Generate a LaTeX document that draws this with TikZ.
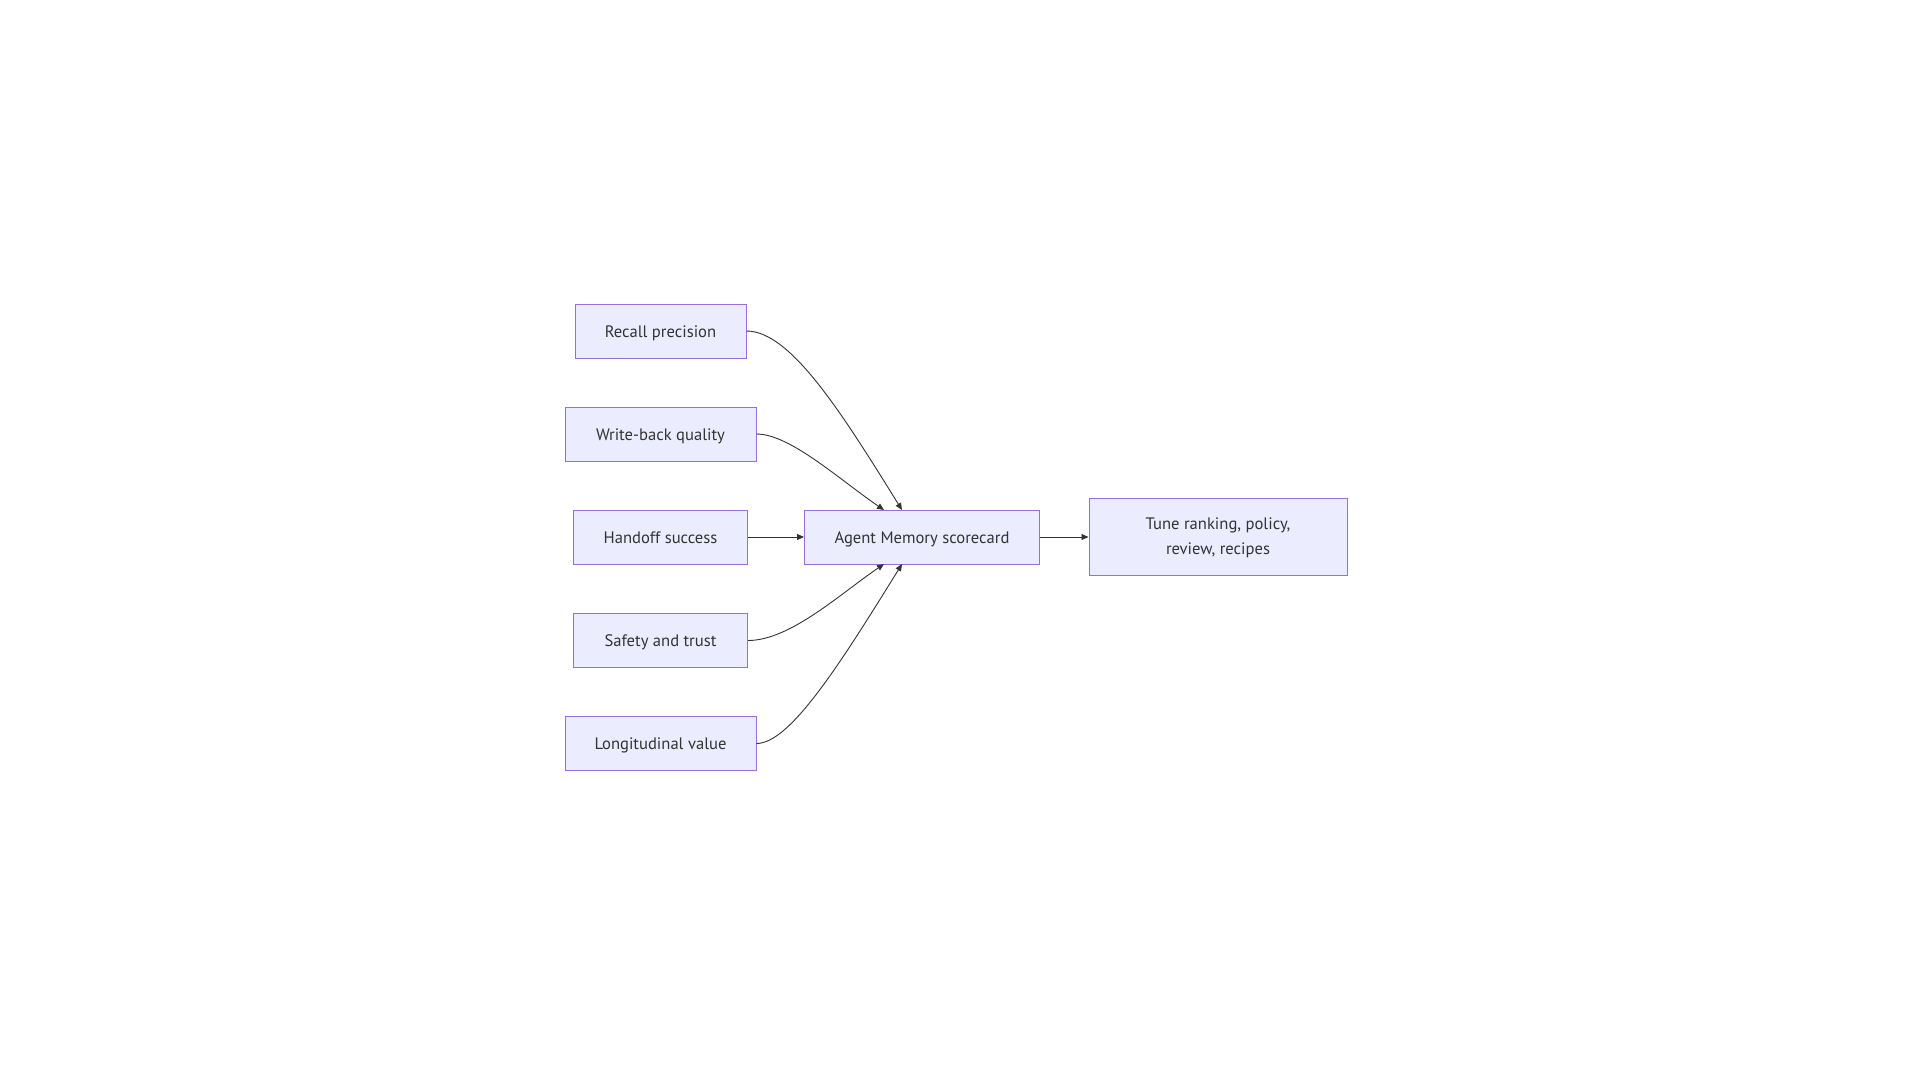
\documentclass[tikz,border=0pt]{standalone}
\usepackage{fontspec}
\setmainfont{PT Sans}
\usetikzlibrary{arrows.meta}
\definecolor{boxfill}{HTML}{ECECFF}
\definecolor{boxline}{HTML}{9370DB}
\definecolor{ink}{HTML}{333333}
\begin{document}
\begin{tikzpicture}[x=1pt,y=-1pt,
  box/.style={draw=boxline, fill=boxfill, line width=1pt, text=ink, font=\fontsize{16.6}{24}\selectfont, align=center, inner sep=0pt},
  onebox/.style={box, minimum height=54pt, text height=13pt, text depth=1pt},
  link/.style={draw=ink, line width=0.9pt, -{Triangle[length=7pt,width=6pt]}}]
\useasboundingbox (0,0) rectangle (1920,1080);
\node[onebox, minimum width=171pt] (rp) at (660.5,331) {Recall precision};
\node[onebox, minimum width=191pt] (wb) at (660.5,434) {Write-back quality};
\node[onebox, minimum width=174pt] (hs) at (660.5,537) {Handoff success};
\node[onebox, minimum width=174pt] (st) at (660.5,640.5) {Safety and trust};
\node[onebox, minimum width=191pt] (lv) at (660.5,743.5) {Longitudinal value};
\node[onebox, minimum width=235pt] (sc) at (922,537) {Agent Memory scorecard};
\node[box, minimum width=258pt, minimum height=77pt] (tr) at (1218,537) {\smash{\raisebox{-17pt}{\def\arraystretch{1.02}\begin{tabular}[b]{@{}c@{}}Tune ranking, policy,\\review, recipes\end{tabular}}}};
\coordinate (t1) at (884,510);
\coordinate (t2) at (902,510);
\coordinate (b1) at (884,564);
\coordinate (b2) at (902,564);
\draw[link] (rp.east) .. controls (790,331) and (840,410) .. (t2);
\draw[link] (wb.east) .. controls (790,434) and (840,480) .. (t1);
\draw[link] (hs.east) -- (sc.west);
\draw[link] (st.east) .. controls (790,640.5) and (840,594) .. (b1);
\draw[link] (lv.east) .. controls (790,743.5) and (840,664) .. (b2);
\draw[link] (sc.east) -- (tr.west);
\end{tikzpicture}
\end{document}
